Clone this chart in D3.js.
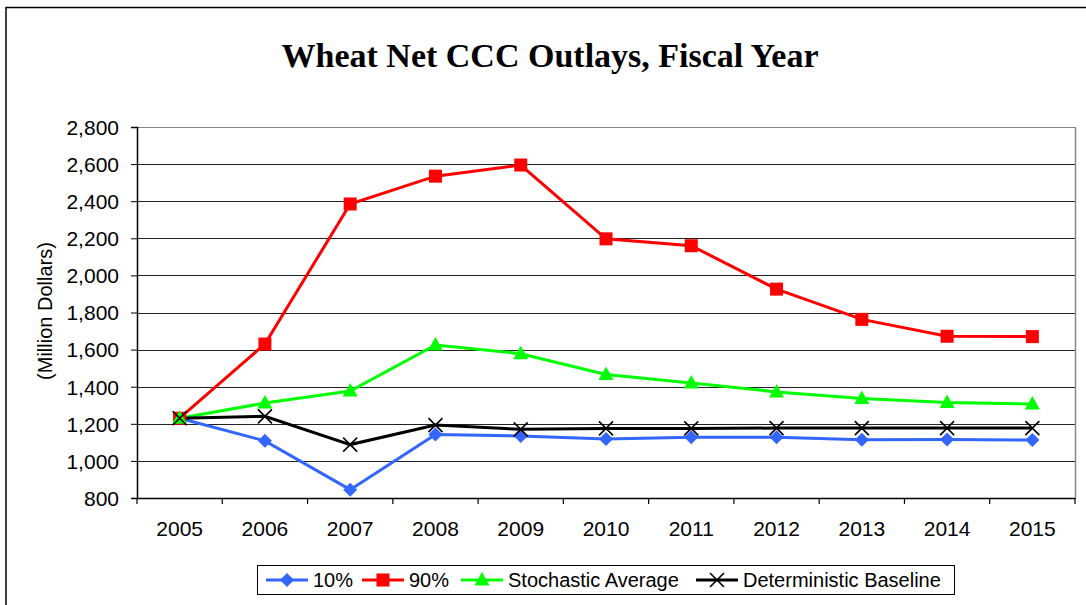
<!DOCTYPE html>
<html><head><meta charset="utf-8">
<script src="https://cdn.jsdelivr.net/npm/d3@7"></script>
<style>body{margin:0;background:#fff}svg{display:block}</style>
</head><body>
<script>
const years = ["2005","2006","2007","2008","2009","2010","2011","2012","2013","2014","2015"];
const p10 = [1230,1108,845,1142,1134,1118,1128,1127,1114,1116,1112];
const p90 = [1230,1630,2385,2535,2595,2197,2160,1926,1763,1672,1670];
const stochAvg = [1230,1312,1377,1625,1578,1466,1420,1372,1337,1315,1307];
const detBase = [1230,1240,1088,1193,1170,1175,1175,1177,1177,1177,1177];
const yTicks = [800,1000,1200,1400,1600,1800,2000,2200,2400,2600,2800];
const titleText = "Wheat Net CCC Outlays, Fiscal Year";
const yLabel = "(Million Dollars)";
const seriesNames = ["10%","90%","Stochastic Average","Deterministic Baseline"];

const W = 1086, H = 605;
const svg = d3.select("body").append("svg").attr("width", W).attr("height", H);
const L = 137, R = 1075, T = 127, B = 498;

// outer border
svg.append("path").attr("d", `M6,${H+5} V7.5 H${W+5}`).attr("fill","none").attr("stroke","#000").attr("stroke-width",1.5);

svg.append("text").attr("x", 550).attr("y", 67).attr("text-anchor","middle")
  .attr("font-family","'Liberation Serif','Times New Roman',serif").attr("font-weight","bold")
  .attr("font-size", 34).text(titleText);

const x = d3.scaleBand().domain(years).range([L, R]);
const y = d3.scaleLinear().domain([800, 2800]).range([B, T]);

// gridlines
svg.append("g").selectAll("line").data(yTicks.slice(1)).join("line")
  .attr("x1", L).attr("x2", R).attr("y1", d => Math.round(y(d))+0.5).attr("y2", d => Math.round(y(d))+0.5)
  .attr("stroke", d => d===2800 ? "#888" : "#222").attr("stroke-width", 1);
// right border
svg.append("line").attr("x1", R+0.5).attr("x2", R+0.5).attr("y1", T).attr("y2", B).attr("stroke","#888").attr("stroke-width",1.5);

const font = "'Liberation Sans',Arial,sans-serif";
const yAxis = svg.append("g").attr("transform", `translate(${L},0)`)
  .call(d3.axisLeft(y).tickValues(yTicks).tickFormat(d3.format(",")).tickSize(6).tickPadding(12));
yAxis.select(".domain").attr("stroke","#000").attr("stroke-width",1.5);
yAxis.selectAll(".tick line").attr("stroke","#000");
yAxis.selectAll("text").attr("font-family", font).attr("font-size", 21).attr("fill","#000").attr("dy","0.35em");

const xAxis = svg.append("g").attr("transform", `translate(0,${B})`)
  .call(d3.axisBottom(x).tickSize(0).tickPadding(23));
xAxis.select(".domain").attr("stroke","#000").attr("stroke-width",1.5);
xAxis.selectAll("text").attr("font-family", font).attr("font-size", 21).attr("fill","#000");
// category boundary ticks
const bounds = years.map(d => x(d)).concat([R]);
svg.append("g").selectAll("line").data(bounds).join("line")
  .attr("x1", d => d).attr("x2", d => d).attr("y1", B).attr("y2", B+6).attr("stroke","#000").attr("stroke-width",1.2);

svg.append("text").attr("transform", "translate(52,311) rotate(-90)").attr("text-anchor","middle")
  .attr("font-family", font).attr("font-size", 20).text(yLabel);

const cx = d => x(d) + x.bandwidth()/2;
const line = d3.line().x(d => cx(d.year)).y(d => y(d.v));
const mk = arr => years.map((yr, i) => ({year: yr, v: arr[i]}));

const series = [
  {name: seriesNames[0], data: mk(p10), color: "#3366FF", shape: "diamond"},
  {name: seriesNames[1], data: mk(p90), color: "#FF0000", shape: "square"},
  {name: seriesNames[2], data: mk(stochAvg), color: "#00FF00", shape: "triangle"},
  {name: seriesNames[3], data: mk(detBase), color: "#000000", shape: "x"}
];

function drawMarker(g, shape, color, px, py) {
  if (shape === "diamond") {
    g.append("path").attr("d", `M${px},${py-7}L${px+7},${py}L${px},${py+7}L${px-7},${py}Z`).attr("fill", color);
  } else if (shape === "square") {
    g.append("rect").attr("x", px-6.5).attr("y", py-6.5).attr("width", 13).attr("height", 13).attr("fill", color);
  } else if (shape === "triangle") {
    g.append("path").attr("d", `M${px},${py-8}L${px+7.5},${py+5.5}L${px-7.5},${py+5.5}Z`).attr("fill", color);
  } else {
    g.append("path").attr("d", `M${px-7},${py-7}L${px+7},${py+7}M${px+7},${py-7}L${px-7},${py+7}`).attr("stroke", color).attr("stroke-width", 1.6);
  }
}

series.forEach(s => {
  svg.append("path").datum(s.data).attr("d", line).attr("fill","none").attr("stroke", s.color).attr("stroke-width", 3);
});
series.forEach(s => {
  const g = svg.append("g");
  s.data.forEach(d => drawMarker(g, s.shape, s.color, cx(d.year), y(d.v)));
});

// legend
const lg = svg.append("g");
lg.append("rect").attr("x", 257.5).attr("y", 565.5).attr("width", 697).attr("height", 29).attr("fill","#fff").attr("stroke","#000").attr("stroke-width",1);
const legX = [266, 362, 461, 696];
series.forEach((s, i) => {
  const x0 = legX[i], ly = 580;
  lg.append("line").attr("x1", x0).attr("x2", x0+42).attr("y1", ly).attr("y2", ly).attr("stroke", s.color).attr("stroke-width", 3);
  drawMarker(lg, s.shape, s.color, x0+21, ly);
  lg.append("text").attr("x", x0+47).attr("y", ly).attr("dy","0.35em").attr("font-family", font).attr("font-size", 20).text(s.name);
});
</script>
</body></html>
